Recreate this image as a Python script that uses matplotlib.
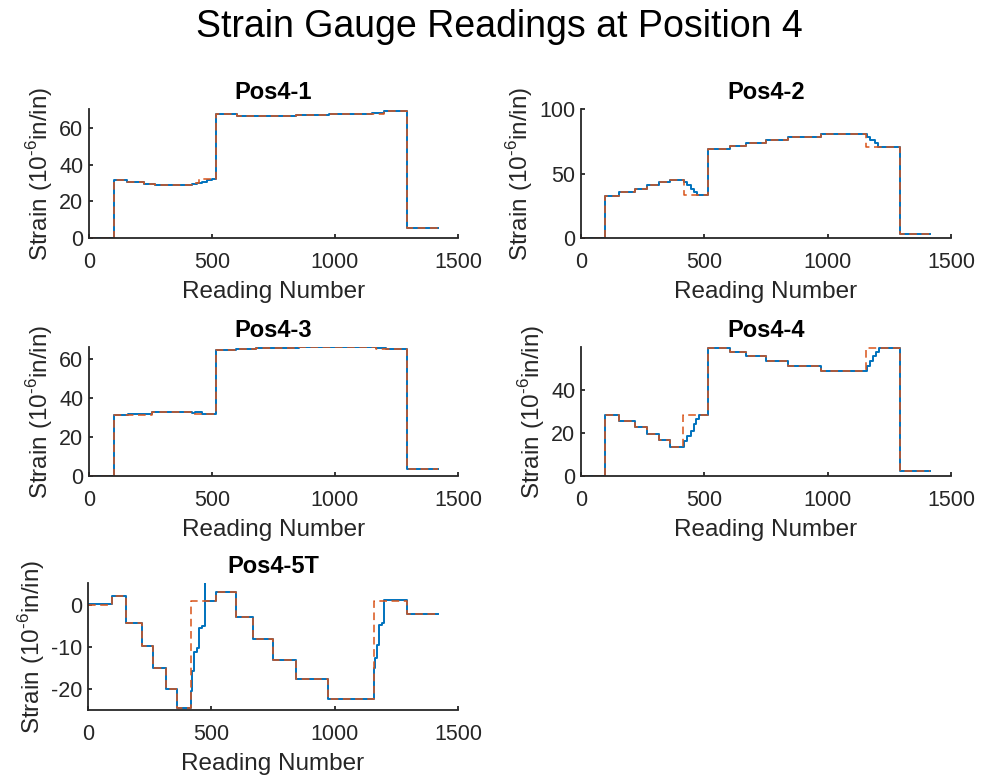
import matplotlib
matplotlib.use('Agg')
import matplotlib.pyplot as plt

plt.rcParams['font.family'] = ['Liberation Sans', 'DejaVu Sans']
plt.rcParams['axes.unicode_minus'] = False
plt.rcParams['mathtext.fontset'] = 'custom'
plt.rcParams['mathtext.rm'] = 'Liberation Sans'

# Pos4-1
x1_meas = [0, 102, 156, 224, 268, 420, 440, 460, 480, 500, 515, 603, 671, 840, 976, 1152, 1199, 1294, 1420]
y1_meas = [0, 31.8, 30.4, 29.5, 28.9, 29.3, 30.0, 30.8, 31.6, 32.4, 67.5, 66.9, 66.5, 67.1, 67.8, 68.3, 69.6, 5.5, 5.5]
x1_mod = [0, 102, 156, 224, 268, 420, 447, 515, 603, 671, 840, 976, 1199, 1294, 1420]
y1_mod = [0, 31.8, 30.4, 29.5, 28.9, 30.2, 32.4, 67.5, 66.9, 66.5, 67.1, 67.8, 69.6, 5.5, 5.5]

# Pos4-2
x2_meas = [0, 99, 153, 217, 268, 316, 359, 417, 430, 444, 457, 470, 515, 603, 667, 749, 840, 972,
           1160, 1173, 1190, 1203, 1294, 1416]
y2_meas = [0, 32.9, 35.5, 38.1, 40.7, 43.3, 45.3, 43.3, 40.7, 38.1, 35.5, 33.2, 68.7, 71.2, 73.6, 75.9, 78.2, 80.8,
           78.5, 75.9, 73.3, 70.2, 3.4, 3.4]
x2_mod = [0, 99, 153, 217, 268, 316, 359, 417, 515, 603, 667, 749, 840, 972, 1154, 1294, 1416]
y2_mod = [0, 32.9, 35.5, 38.1, 40.7, 43.3, 45.3, 33.2, 68.7, 71.2, 73.6, 75.9, 78.2, 80.8, 70.2, 3.4, 3.4]

# Pos4-3
x3_meas = [0, 102, 160, 257, 420, 430, 460, 518, 596, 678, 854, 1165, 1206, 1294, 1420]
y3_meas = [0, 31.3, 31.8, 32.5, 32.2, 32.6, 31.8, 64.4, 65.0, 65.5, 66.0, 65.6, 65.1, 3.8, 3.8]
x3_mod = [0, 102, 257, 420, 518, 596, 678, 854, 1165, 1294, 1420]
y3_mod = [0, 31.3, 32.5, 31.6, 64.4, 65.0, 65.5, 66.0, 65.1, 3.8, 3.8]

# Pos4-4
x4_meas = [0, 99, 153, 217, 267, 316, 359, 417, 430, 444, 457, 467, 478, 515, 603, 667, 749, 840, 972,
           1160, 1170, 1184, 1197, 1207, 1294, 1416]
y4_meas = [0, 28.5, 25.7, 22.9, 19.8, 17.0, 13.5, 16.5, 18.9, 21.2, 24.3, 26.6, 28.5, 59.8, 57.9, 56.0, 53.7, 51.3, 49.0,
           51.6, 53.7, 56.0, 57.9, 59.8, 2.2, 2.2]
x4_mod = [0, 99, 153, 217, 267, 316, 359, 413, 515, 603, 667, 749, 840, 972, 1154, 1294, 1416]
y4_mod = [0, 28.5, 25.7, 22.9, 19.8, 17.0, 13.5, 28.5, 59.8, 57.9, 56.0, 53.7, 51.3, 49.0, 59.8, 2.2, 2.2]

# Pos4-5T
x5_meas = [0, 97, 156, 217, 264, 315, 359, 416, 420, 428, 440, 452, 462, 473, 476, 517, 600, 670, 751, 843, 971,
           1158, 1164, 1172, 1180, 1191, 1200, 1209, 1293, 1418]
y5_meas = [0.2, 2.0, -4.3, -9.7, -15.0, -19.9, -24.5, -20.6, -15.8, -11.1, -10.2, -5.5, -5.1, 5.5, 1.0, 3.0, -2.9,
           -8.1, -13.0, -17.6, -22.3, -15.0, -12.6, -9.5, -4.7, -4.3, 1.2, 1.2, -2.2, -2.2]
x5_mod = [0, 97, 156, 217, 264, 315, 359, 416, 517, 600, 670, 751, 843, 971, 1158, 1293, 1418]
y5_mod = [0, 2.0, -4.3, -9.7, -15.0, -19.9, -24.5, 1.0, 3.0, -2.9, -8.1, -13.0, -17.6, -22.3, 1.0, -2.2, -2.2]

titles = ['Pos4-1', 'Pos4-2', 'Pos4-3', 'Pos4-4', 'Pos4-5T']
meas = [(x1_meas, y1_meas), (x2_meas, y2_meas), (x3_meas, y3_meas), (x4_meas, y4_meas), (x5_meas, y5_meas)]
mods = [(x1_mod, y1_mod), (x2_mod, y2_mod), (x3_mod, y3_mod), (x4_mod, y4_mod), (x5_mod, y5_mod)]
ylims = [(0, 70.5), (0, 100), (0, 66), (0, 60.3), (-25, 5.2)]
yticks = [[0, 20, 40, 60], [0, 50, 100], [0, 20, 40, 60], [0, 20, 40], [-20, -10, 0]]

# axes boxes in pixels: left, top, right, bottom
W, H = 989, 778
boxes = [(89, 109, 458, 238), (581, 109, 951, 238),
         (89, 347, 458, 476), (581, 347, 951, 476),
         (88, 583, 458, 710)]

fig = plt.figure(figsize=(W / 100, H / 100), dpi=100)
fig.text(0.505, 0.989, 'Strain Gauge Readings at Position 4', fontsize=27, ha='center', va='top')

dark = '#262626'
for i in range(5):
    l, t, r, b = boxes[i]
    ax = fig.add_axes([l / W, 1 - b / H, (r - l) / W, (b - t) / H])
    ax.plot(meas[i][0], meas[i][1], color='#0072BD', lw=1.4, drawstyle='steps-post')
    ax.plot(mods[i][0], mods[i][1], color='#D95319', lw=1.1, ls=(0, (5, 3)), drawstyle='steps-post')
    ax.set_xlim(0, 1500)
    ax.set_ylim(*ylims[i])
    ax.set_xticks([0, 500, 1000, 1500])
    ax.set_yticks(yticks[i])
    for s in ['top', 'right']:
        ax.spines[s].set_visible(False)
    for s in ['left', 'bottom']:
        ax.spines[s].set_color(dark)
        ax.spines[s].set_linewidth(1.3)
    ax.tick_params(direction='in', length=3, width=1.3, color=dark, labelcolor=dark, labelsize=15.5)
    ax.tick_params(axis='x', pad=10)
    ax.tick_params(axis='y', pad=4)
    ax.set_title(titles[i], fontsize=17, fontweight='bold', pad=7)
    ax.set_xlabel('Reading Number', fontsize=17.5, color=dark, labelpad=6)
    ax.set_ylabel('Strain (10$^{\\text{-6}}$in/in)', fontsize=17.5, color=dark, labelpad=3)

fig.savefig('out.png', dpi=100)
